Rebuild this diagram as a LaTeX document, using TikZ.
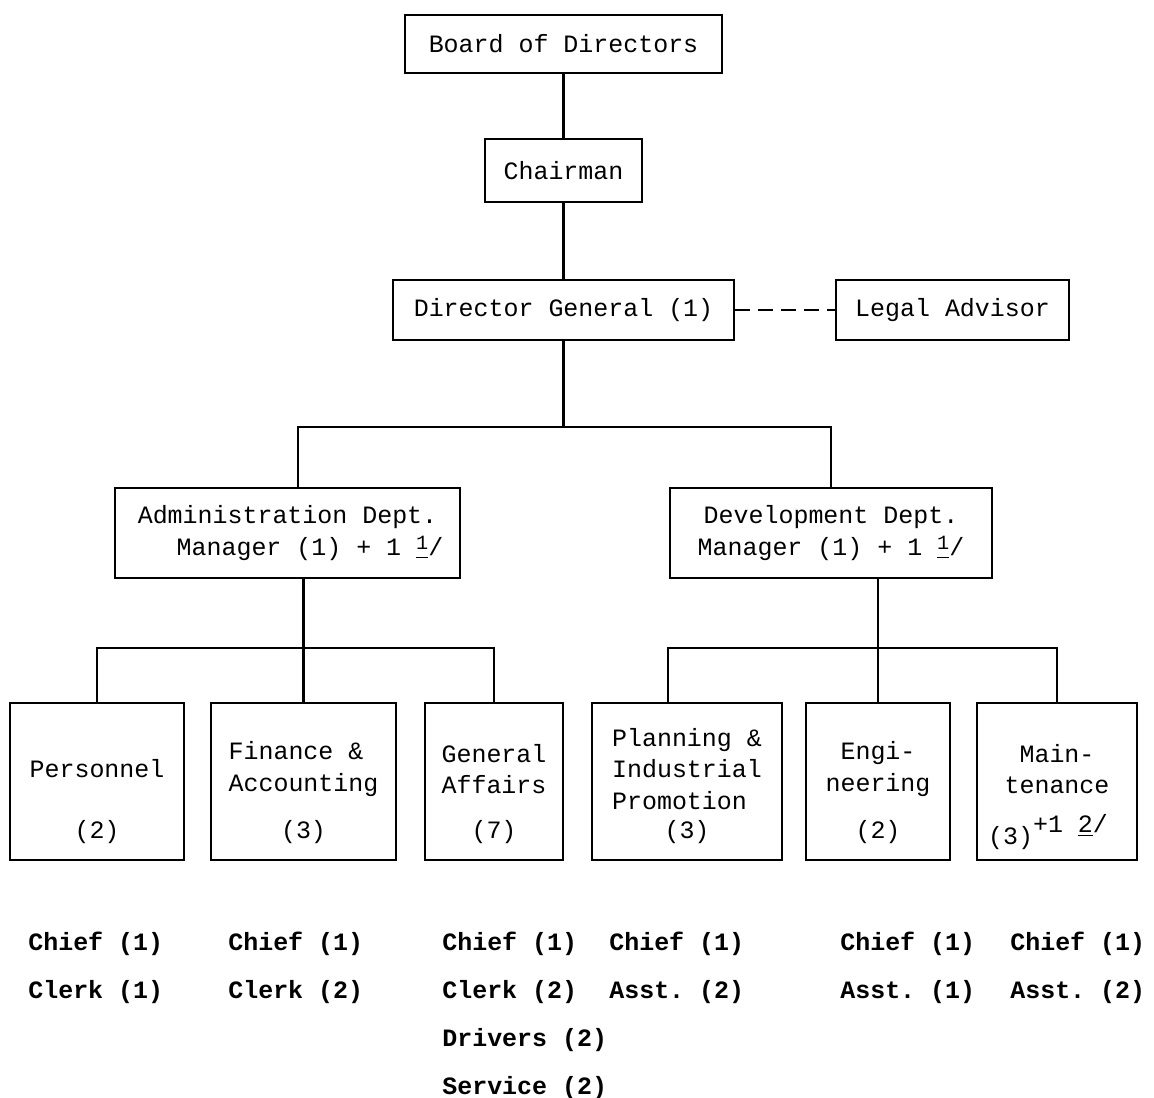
\documentclass[tikz,border=0pt]{standalone}
\usepackage{fontspec}
\setmonofont{Liberation Mono}
\usetikzlibrary{positioning}
\newcommand{\fnote}[1]{\underline{\smash{\raisebox{0.4ex}{\fontsize{11.5}{11.5}\selectfont #1}}}/}
\tikzset{
	post/.style ={rectangle, draw=black, line width=1.3pt, inner sep=0pt, align=center},
	unit/.style ={post, minimum height=3.14cm},
	ttl/.style  ={anchor=center, yshift=0.25cm, align=center},
	cnt/.style  ={anchor=center, yshift=0.58cm},
	staff/.style={anchor=north west, inner sep=0pt, align=left, font=\ttfamily\bfseries\fontsize{14.2}{27.2}\selectfont},
	tie/.style  ={line width=1.3pt},
}
\begin{document}
\begin{tikzpicture}[x=0.02cm, y=-0.02cm, every node/.style={font=\ttfamily\fontsize{14.2}{17.8}\selectfont}]
	\useasboundingbox (0,0) rectangle (1154,1098);
	% top of the chart
	\node[post, minimum width=6.34cm, minimum height=1.16cm] (board) at (563.5,44) {Board of Directors};
	\node[post, minimum width=3.14cm, minimum height=1.26cm] (chair) at (563.5,170.5) {Chairman};
	\node[post, minimum width=6.82cm, minimum height=1.2cm] (dg) at (563.5,310) {Director General (1)};
	\node[post, minimum width=4.66cm, minimum height=1.2cm] (legal) at (952.5,310) {Legal Advisor};
	\node[post, minimum width=6.9cm, minimum height=1.8cm] (admin) at (287.5,533) {Administration Dept.\\\hspace*{0.9cm}Manager (1) + 1 \fnote{1}};
	\node[post, minimum width=6.44cm, minimum height=1.8cm] (dev) at (831,533) {Development Dept.\\Manager (1) + 1 \fnote{1}};
	% units
	\node[unit, minimum width=3.48cm, label={[ttl]center:Personnel}, label={[cnt]south:(2)}] (pers) at (97,781.5) {};
	\node[unit, minimum width=3.7cm, label={[ttl, align=left]center:{Finance \&\\Accounting}}, label={[cnt]south:(3)}] (fin) at (303.5,781.5) {};
	\node[unit, minimum width=2.76cm, label={[ttl]center:{General\\Affairs}}, label={[cnt]south:(7)}] (gen) at (494,781.5) {};
	\node[unit, minimum width=3.8cm, label={[ttl, align=left]center:{Planning \&\\Industrial\\Promotion}}, label={[cnt]south:(3)}] (plan) at (687,781.5) {};
	\node[unit, minimum width=2.88cm, label={[ttl]center:{Engi-\\neering}}, label={[cnt]south:(2)}] (eng) at (878,781.5) {};
	\node[unit, minimum width=3.2cm, label={[ttl]center:{Main-\\tenance}}, label={[cnt, xshift=-0.18cm]south:{(3)\raisebox{0.9ex}{+1 \underline{2}/}}}] (mnt) at (1057,781.5) {};
	% staff lists
	\node[staff] (perslist) at (28,932) {Chief (1)\\Clerk (1)};
	\node[staff] (finlist) at (228,932) {Chief (1)\\Clerk (2)};
	\node[staff] (genlist) at (442,932) {Chief (1)\\Clerk (2)\\Drivers (2)\\Service (2)};
	\node[staff] (planlist) at (609,932) {Chief (1)\\Asst. (2)};
	\node[staff] (englist) at (840,932) {Chief (1)\\Asst. (1)};
	\node[staff] (mntlist) at (1010,932) {Chief (1)\\Asst. (2)};
	% connectors
	\coordinate (split) at (563.5,427);
	\coordinate (bar) at (0,648);
	\draw[tie] (board) -- (chair);
	\draw[tie] (chair) -- (dg);
	\draw[tie, dash pattern=on 0.3cm off 0.16cm] (dg) -- (legal);
	\draw[tie] (dg) -- (split);
	\draw[tie] ([xshift=0.21cm]admin.north) |- (split) -| (dev.north);
	\draw[tie] (admin.south -| fin.north) -- (fin.north);
	\draw[tie] (pers.north) |- (bar -| gen.north) -- (gen.north);
	\draw[tie] (dev.south -| eng.north) -- (eng.north);
	\draw[tie] ([xshift=-0.38cm]plan.north) |- (bar -| mnt.north) -- (mnt.north);
\end{tikzpicture}
\end{document}
